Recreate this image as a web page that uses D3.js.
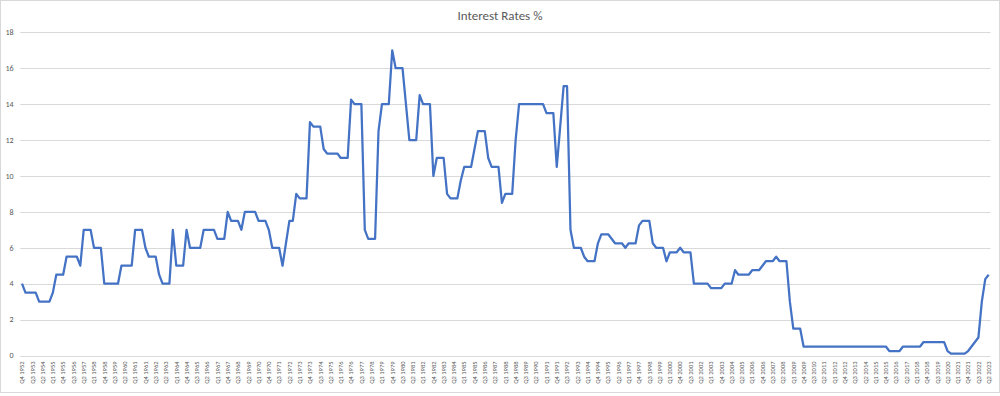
<!DOCTYPE html>
<html>
<head>
<meta charset="utf-8">
<script src="https://cdn.jsdelivr.net/npm/d3@7"></script>
<style>
  body { margin: 0; background: #fff; }
  text { font-family: Carlito, Calibri, "Liberation Sans Narrow", "Liberation Sans", Arial, sans-serif; fill: #595959; }
</style>
</head>
<body>
<div id="chart"></div>
<script>
// quarterly bank rate, Q4 1952 .. Q2 2023
const startYear = 1952, startQuarter = 4;

const rates = [
  4, 3.5, 3.5, 3.5, 3.5, 3, 3, 3, 3, 3.5,
  4.5, 4.5, 4.5, 5.5, 5.5, 5.5, 5.5, 5, 7, 7,
  7, 6, 6, 6, 4, 4, 4, 4, 4, 5,
  5, 5, 5, 7, 7, 7, 6, 5.5, 5.5, 5.5,
  4.5, 4, 4, 4, 7, 5, 5, 5, 7, 6,
  6, 6, 6, 7, 7, 7, 7, 6.5, 6.5, 6.5,
  8, 7.5, 7.5, 7.5, 7, 8, 8, 8, 8, 7.5,
  7.5, 7.5, 7, 6, 6, 6, 5, 6.25, 7.5, 7.5,
  9, 8.75, 8.75, 8.75, 13, 12.75, 12.75, 12.75, 11.5, 11.25,
  11.25, 11.25, 11.25, 11, 11, 11, 14.25, 14, 14, 14,
  7, 6.5, 6.5, 6.5, 12.5, 14, 14, 14, 17, 16,
  16, 16, 14, 12, 12, 12, 14.5, 14, 14, 14,
  10, 11, 11, 11, 9, 8.75, 8.75, 8.75, 9.75, 10.5,
  10.5, 10.5, 11.5, 12.5, 12.5, 12.5, 11, 10.5, 10.5, 10.5,
  8.5, 9, 9, 9, 12, 14, 14, 14, 14, 14,
  14, 14, 14, 13.5, 13.5, 13.5, 10.5, 12.75, 15, 15,
  7, 6, 6, 6, 5.5, 5.25, 5.25, 5.25, 6.25, 6.75,
  6.75, 6.75, 6.5, 6.25, 6.25, 6.25, 6, 6.25, 6.25, 6.25,
  7.25, 7.5, 7.5, 7.5, 6.25, 6, 6, 6, 5.25, 5.75,
  5.75, 5.75, 6, 5.75, 5.75, 5.75, 4, 4, 4, 4,
  4, 3.75, 3.75, 3.75, 3.75, 4, 4, 4, 4.75, 4.5,
  4.5, 4.5, 4.5, 4.75, 4.75, 4.75, 5, 5.25, 5.25, 5.25,
  5.5, 5.25, 5.25, 5.25, 3, 1.5, 1.5, 1.5, 0.5, 0.5,
  0.5, 0.5, 0.5, 0.5, 0.5, 0.5, 0.5, 0.5, 0.5, 0.5,
  0.5, 0.5, 0.5, 0.5, 0.5, 0.5, 0.5, 0.5, 0.5, 0.5,
  0.5, 0.5, 0.5, 0.25, 0.25, 0.25, 0.25, 0.5, 0.5, 0.5,
  0.5, 0.5, 0.5, 0.75, 0.75, 0.75, 0.75, 0.75, 0.75, 0.75,
  0.25, 0.1, 0.1, 0.1, 0.1, 0.1, 0.25, 0.5, 0.75, 1,
  3, 4.25, 4.5
];

// category labels "Q4 1952", "Q1 1953", ...
const quarters = rates.map((d, i) => {
  let q = startQuarter - 1 + i;
  return "Q" + (q % 4 + 1) + " " + (startYear + Math.floor(q / 4));
});

const yTicks = [0, 2, 4, 6, 8, 10, 12, 14, 16, 18];
const labelEvery = 3;
const title = "Interest Rates %";

const width = 1000, height = 396;

const svg = d3.select("#chart").append("svg")
  .attr("width", width)
  .attr("height", height);

// outer chart border
svg.append("rect")
  .attr("x", 0.5).attr("y", 0.5)
  .attr("width", width - 1).attr("height", 392)
  .attr("fill", "#fff")
  .attr("stroke", "#d9d9d9");

const x = d3.scalePoint()
  .domain(quarters)
  .range([20.3, 990.4])
  .padding(0.5);

const y = d3.scaleLinear()
  .domain([0, 18])
  .range([355.5, 32.3]);

// gridlines
svg.append("g")
  .selectAll("line")
  .data(yTicks)
  .join("line")
  .attr("x1", 20.3).attr("x2", 990.4)
  .attr("y1", d => Math.round(y(d)) + 0.5)
  .attr("y2", d => Math.round(y(d)) + 0.5)
  .attr("stroke", "#d9d9d9")
  .attr("stroke-width", 1);

// y axis labels
svg.append("g")
  .selectAll("text")
  .data(yTicks)
  .join("text")
  .attr("x", 13.5)
  .attr("y", d => y(d))
  .attr("dy", "0.35em")
  .attr("text-anchor", "end")
  .attr("font-size", "8px")
  .text(d => d);

// x axis labels, rotated
svg.append("g")
  .selectAll("text")
  .data(quarters.filter((d, i) => i % labelEvery === 0))
  .join("text")
  .attr("transform", d => `translate(${x(d)},361.5) rotate(-90)`)
  .attr("dy", "0.35em")
  .attr("text-anchor", "end")
  .attr("font-size", "6.5px")
  .text(d => d);

// the line
const line = d3.line()
  .x((d, i) => x(quarters[i]))
  .y(d => y(d));

svg.append("path")
  .datum(rates)
  .attr("d", line)
  .attr("fill", "none")
  .attr("stroke", "#4472c4")
  .attr("stroke-width", 2.25)
  .attr("stroke-linejoin", "round");

svg.append("text")
  .attr("x", 500)
  .attr("y", 20)
  .attr("text-anchor", "middle")
  .attr("font-size", "13px")
  .text(title);
</script>
</body>
</html>
